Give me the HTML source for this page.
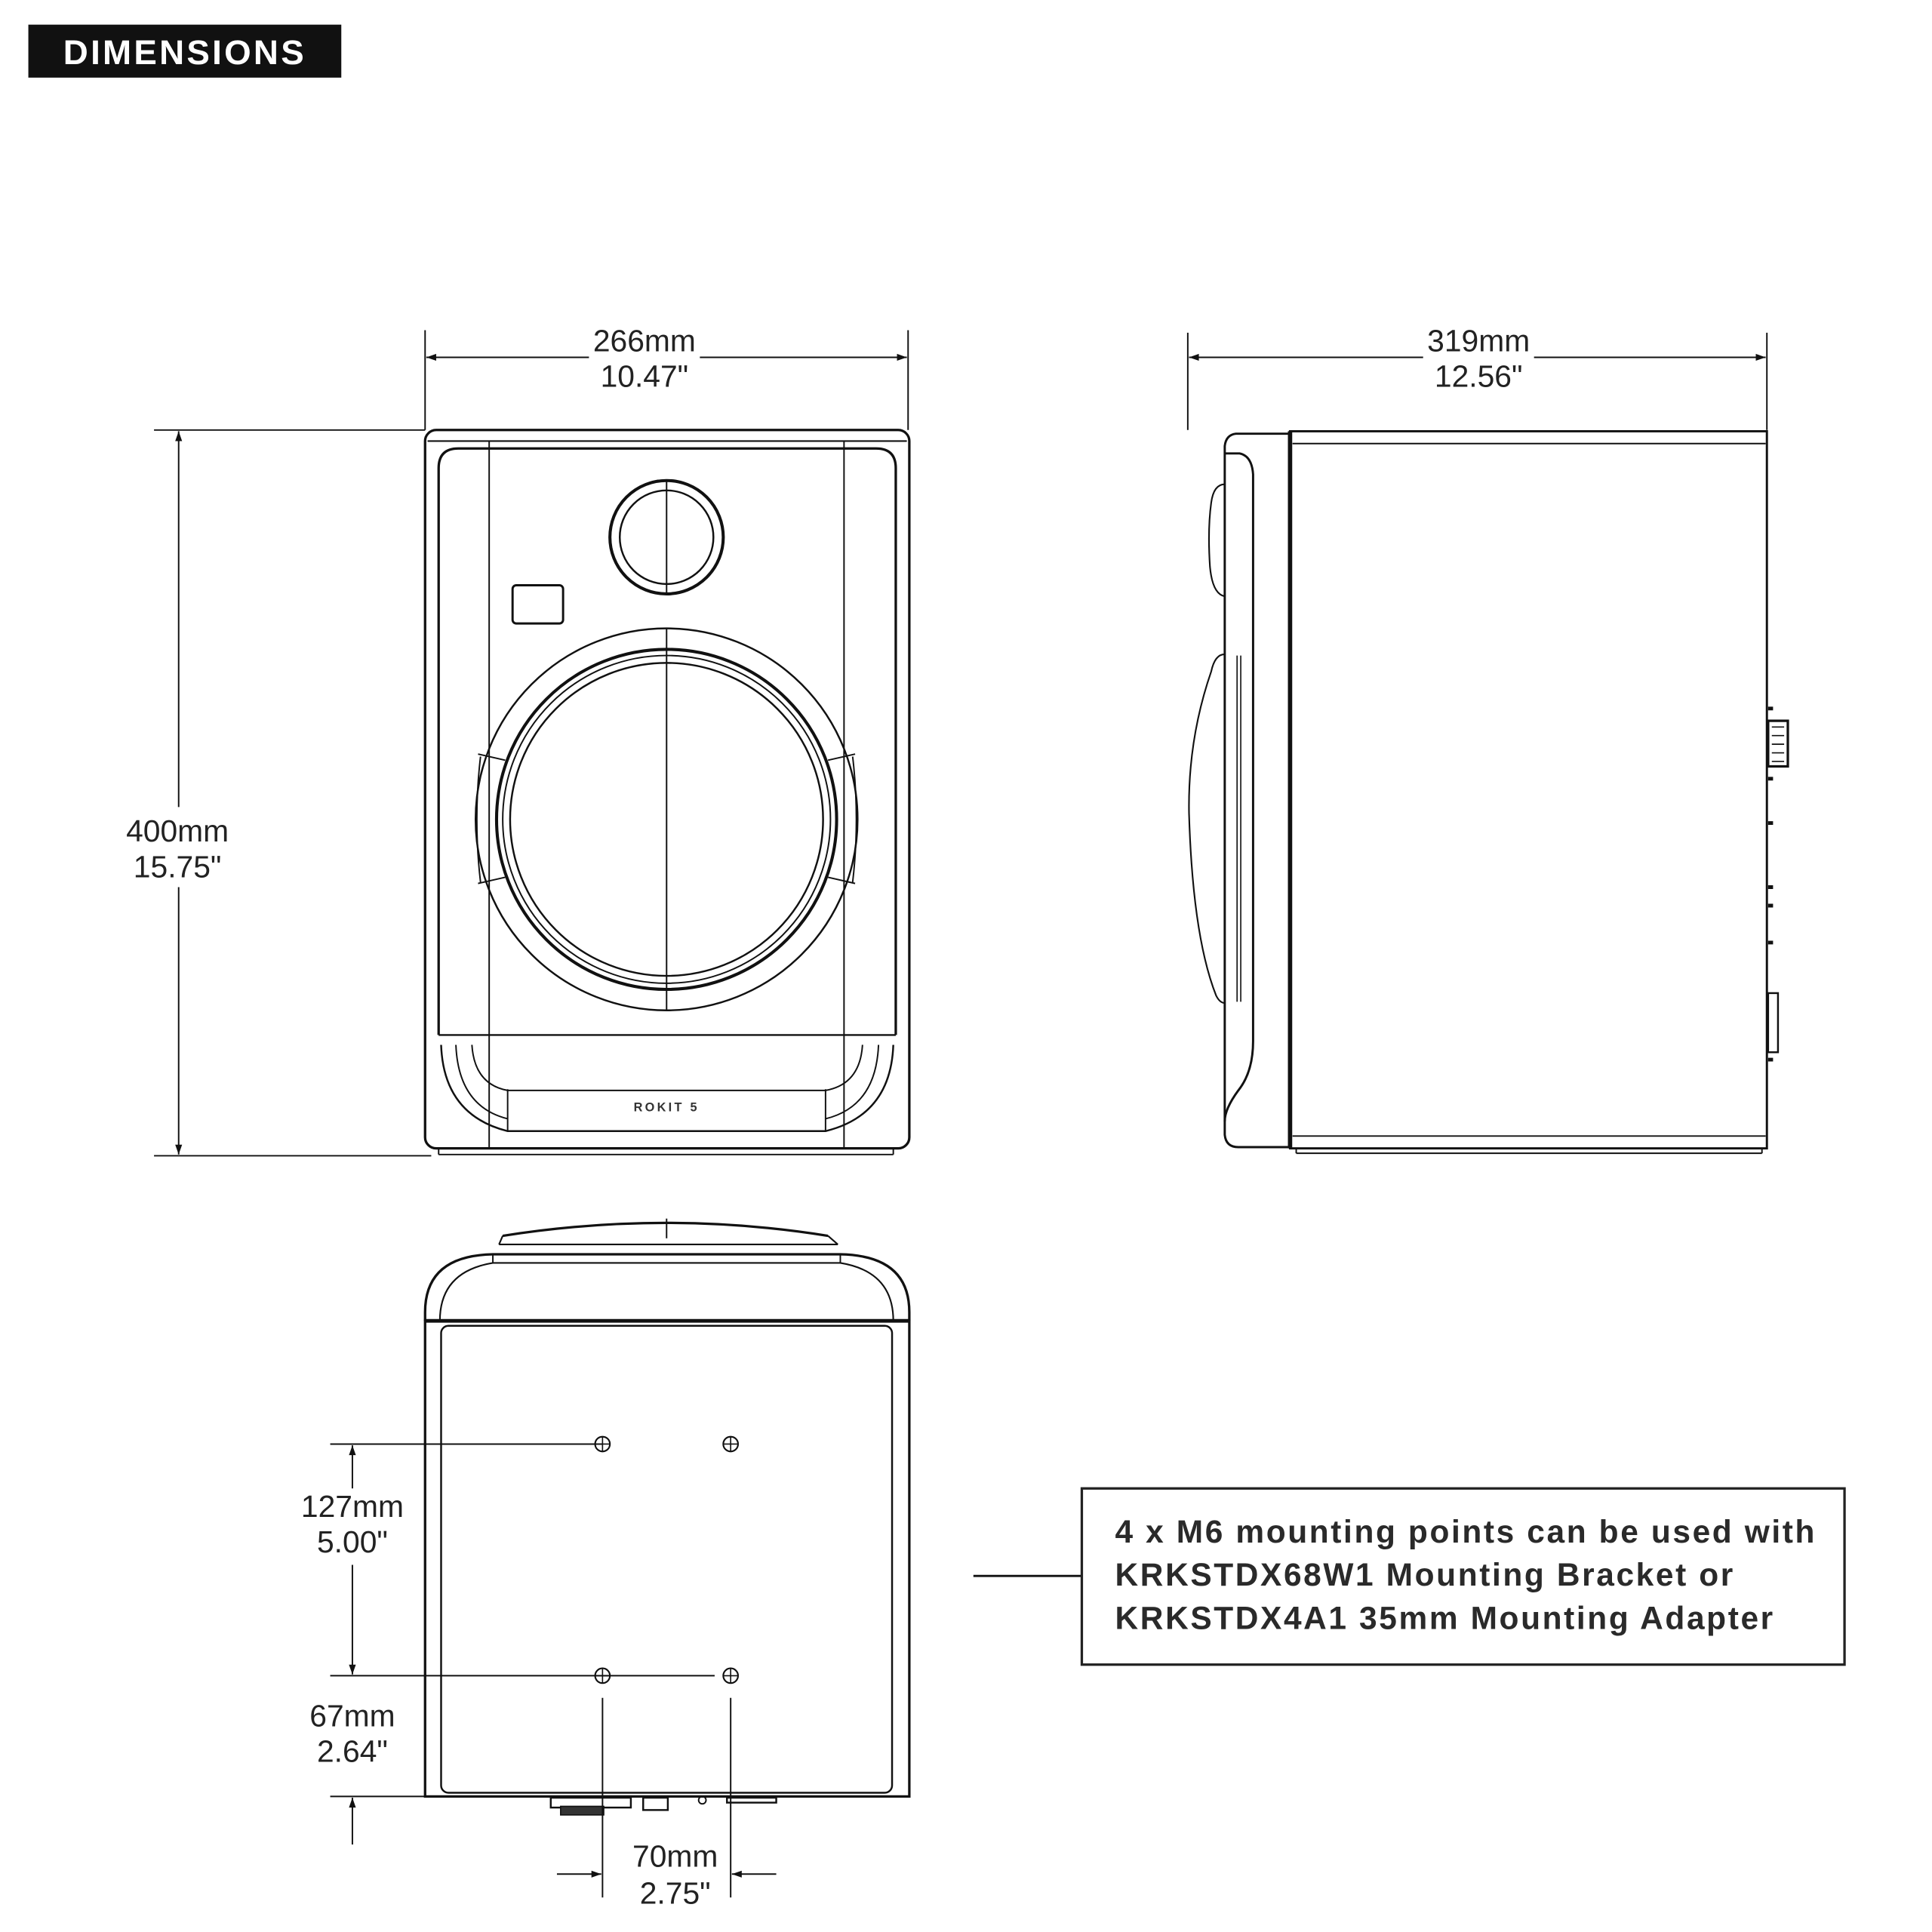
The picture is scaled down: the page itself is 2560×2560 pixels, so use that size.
<!DOCTYPE html>
<html><head><meta charset="utf-8"><style>
html,body{margin:0;padding:0;background:#fff;}
svg{display:block;}
.d{font-family:"Liberation Sans",sans-serif;font-size:25px;fill:#222;text-anchor:middle;}
.n{font-family:"Liberation Sans",sans-serif;font-size:26px;font-weight:bold;fill:#2a2a2a;letter-spacing:1.6px;}
</style></head><body>
<svg width="2560" height="2560" viewBox="0 0 1568 1568" xmlns="http://www.w3.org/2000/svg">
<defs>
<marker id="a" viewBox="0 0 10 10" refX="10" refY="5" markerWidth="16" markerHeight="8" markerUnits="userSpaceOnUse" orient="auto-start-reverse"><path d="M0,1.5 L10,5 L0,8.5 z" fill="#111"/></marker>
</defs>
<rect x="23" y="20" width="254" height="43" fill="#111"/>
<text x="150" y="52" fill="#fff" font-family="Liberation Sans,sans-serif" font-weight="bold" font-size="28" text-anchor="middle" letter-spacing="2">DIMENSIONS</text>

<g fill="none" stroke="#111" stroke-width="1.2">
<line x1="345" y1="268" x2="345" y2="349"/><line x1="737" y1="268" x2="737" y2="349"/>
<line x1="346" y1="290" x2="478" y2="290" marker-start="url(#a)"/><line x1="568" y1="290" x2="736" y2="290" marker-end="url(#a)"/>
<line x1="125" y1="349" x2="345" y2="349"/><line x1="125" y1="938" x2="350" y2="938"/>
<line x1="145" y1="350" x2="145" y2="655" marker-start="url(#a)"/><line x1="145" y1="720" x2="145" y2="937" marker-end="url(#a)"/>
<line x1="964" y1="270" x2="964" y2="349"/><line x1="1434" y1="270" x2="1434" y2="349"/>
<line x1="965" y1="290" x2="1155" y2="290" marker-start="url(#a)"/><line x1="1245" y1="290" x2="1433" y2="290" marker-end="url(#a)"/>
</g>
<text class="d" x="523" y="285">266mm</text><text class="d" x="523" y="314">10.47"</text>
<text class="d" x="144" y="683">400mm</text><text class="d" x="144" y="712">15.75"</text>
<text class="d" x="1200" y="285">319mm</text><text class="d" x="1200" y="314">12.56"</text>

<g fill="none" stroke="#111" stroke-width="2">
<rect x="345" y="349" width="393" height="583" rx="9"/>
<line x1="347" y1="358" x2="736" y2="358" stroke-width="1.3"/>
<path d="M356,840 V380 Q356,364 372,364 H711 Q727,364 727,380 V840"/>
<line x1="397" y1="358" x2="397" y2="932" stroke-width="1.2"/>
<line x1="685" y1="358" x2="685" y2="932" stroke-width="1.2"/>
<circle cx="541" cy="436" r="46" stroke-width="2.5"/>
<circle cx="541" cy="436" r="38" stroke-width="1.5"/>
<line x1="541" y1="390" x2="541" y2="482" stroke-width="1.2"/>
<rect x="416" y="475" width="41" height="31" rx="3" stroke-width="1.8"/>
<circle cx="541" cy="665" r="155" stroke-width="1.5"/>
<circle cx="541" cy="665" r="138" stroke-width="2.5"/>
<circle cx="541" cy="665" r="133" stroke-width="1.2"/>
<circle cx="541" cy="665" r="127" stroke-width="1.5"/>
<line x1="541" y1="510" x2="541" y2="820" stroke-width="1.2"/>
<path d="M388,612 L410,617 M388,717 L410,712 M694,612 L672,617 M694,717 L672,712" stroke-width="1.2"/>
<path d="M390,614 Q384,665 390,716" stroke-width="1.2"/>
<path d="M692,614 Q698,665 692,716" stroke-width="1.2"/>
<line x1="356" y1="840" x2="727" y2="840" stroke-width="1.5"/>
<path d="M358,848 Q360,905 412,918 H670 Q723,905 725,848" stroke-width="1.5"/>
<path d="M370,848 Q372,898 412,908" stroke-width="1.2"/>
<path d="M713,848 Q711,898 670,908" stroke-width="1.2"/>
<path d="M383,848 Q385,880 412,885 M700,848 Q698,880 670,885" stroke-width="1.2"/>
<line x1="412" y1="884" x2="412" y2="918" stroke-width="1.2"/><line x1="670" y1="884" x2="670" y2="918" stroke-width="1.2"/>
<line x1="412" y1="885" x2="670" y2="885" stroke-width="1.2"/>
<line x1="356" y1="932" x2="356" y2="937" stroke-width="1.2"/><line x1="725" y1="932" x2="725" y2="937" stroke-width="1.2"/>
<line x1="356" y1="937" x2="725" y2="937" stroke-width="1.2"/>
</g>
<text x="541" y="902" font-family="Liberation Sans,sans-serif" font-size="10" font-weight="bold" fill="#333" text-anchor="middle" letter-spacing="2">ROKIT 5</text>

<g fill="none" stroke="#111" stroke-width="1.8">
<rect x="1047" y="350" width="387" height="582"/>
<line x1="1047" y1="350" x2="1047" y2="932" stroke-width="3.5"/>
<line x1="1049" y1="360" x2="1433" y2="360" stroke-width="1.2"/>
<line x1="1049" y1="922" x2="1433" y2="922" stroke-width="1.2"/>
<path d="M1047,352 H1003 Q995,353 994,362 V921 Q995,931 1005,931 H1047"/>
<path d="M994,368 H1006 Q1016,370 1017,385 V845 Q1017,870 1005,885 Q994,900 994,910"/>
<path d="M994,393 Q985,393 983,408 Q980,430 982,460 Q984,482 994,484" stroke-width="1.3"/>
<path d="M994,531 Q986,531 983,545 Q964,600 965,660 Q968,760 987,808 Q990,814 994,814" stroke-width="1.3"/>
<line x1="1004" y1="532" x2="1004" y2="813" stroke-width="1"/>
<line x1="1007" y1="532" x2="1007" y2="813" stroke-width="1"/>
<line x1="1052" y1="932" x2="1052" y2="936" stroke-width="1.2"/><line x1="1430" y1="932" x2="1430" y2="936" stroke-width="1.2"/>
<line x1="1052" y1="936" x2="1430" y2="936" stroke-width="1.2"/>
<rect x="1435" y="585" width="16" height="37" stroke-width="2" fill="#fff"/>
<path d="M1438,590 h10 M1438,597 h10 M1438,604 h10 M1438,611 h10 M1438,618 h10" stroke-width="1"/>
<rect x="1435" y="806" width="8" height="48" stroke-width="1.5"/>
<path d="M1435,575 h4 M1435,632 h4 M1435,668 h4 M1435,720 h4 M1435,735 h4 M1435,765 h4 M1435,860 h4" stroke-width="3"/>
</g>

<g fill="none" stroke="#111" stroke-width="2">
<path d="M408,1003 Q541,982 672,1003"/>
<line x1="541" y1="989" x2="541" y2="1005" stroke-width="1.2"/>
<path d="M405,1010 H680 M408,1003 L405,1010 M672,1003 L680,1010" stroke-width="1.3"/>
<path d="M345,1072 V1065 Q345,1019 400,1018 H682 Q738,1019 738,1065 V1072"/>
<path d="M357,1072 Q357,1032 400,1025 H682 Q725,1032 725,1072" stroke-width="1.3"/>
<line x1="400" y1="1018" x2="400" y2="1025" stroke-width="1.2"/><line x1="682" y1="1018" x2="682" y2="1025" stroke-width="1.2"/>
<line x1="345" y1="1072" x2="738" y2="1072" stroke-width="3"/>
<rect x="345" y="1072" width="393" height="386"/>
<rect x="358" y="1076" width="366" height="379" rx="6" stroke-width="1.5"/>
<g stroke-width="1.3">
<circle cx="489" cy="1172" r="6"/><circle cx="593" cy="1172" r="6"/><circle cx="489" cy="1360" r="6"/><circle cx="593" cy="1360" r="6"/>
<path d="M483,1172 h12 M489,1166 v12 M587,1172 h12 M593,1166 v12 M483,1360 h12 M489,1354 v12 M587,1360 h12 M593,1354 v12" stroke-width="1"/>
</g>
<rect x="447" y="1459" width="65" height="8" stroke-width="1.5"/>
<rect x="455" y="1466" width="35" height="7" fill="#333" stroke-width="1"/>
<rect x="522" y="1459" width="20" height="10" stroke-width="1.5"/>
<circle cx="570" cy="1461" r="3" stroke-width="1.2"/>
<rect x="590" y="1459" width="40" height="4" stroke-width="1.5"/>
</g>
<g fill="none" stroke="#111" stroke-width="1.2">
<line x1="268" y1="1172" x2="489" y2="1172"/>
<line x1="268" y1="1360" x2="580" y2="1360"/>
<line x1="268" y1="1458" x2="345" y2="1458"/>
<line x1="286" y1="1173" x2="286" y2="1208" marker-start="url(#a)"/>
<line x1="286" y1="1270" x2="286" y2="1359" marker-end="url(#a)"/>
<line x1="286" y1="1459" x2="286" y2="1497" marker-start="url(#a)"/>
<line x1="489" y1="1378" x2="489" y2="1540"/><line x1="593" y1="1378" x2="593" y2="1540"/>
<line x1="452" y1="1521" x2="488" y2="1521" marker-end="url(#a)"/>
<line x1="630" y1="1521" x2="594" y2="1521" marker-end="url(#a)"/>
</g>
<text class="d" x="286" y="1231">127mm</text><text class="d" x="286" y="1260">5.00"</text>
<text class="d" x="286" y="1401">67mm</text><text class="d" x="286" y="1430">2.64"</text>
<text class="d" x="548" y="1515">70mm</text><text class="d" x="548" y="1545">2.75"</text>

<line x1="790" y1="1279" x2="878" y2="1279" stroke="#111" stroke-width="1.8"/>
<rect x="878" y="1208" width="619" height="143" fill="none" stroke="#222" stroke-width="2"/>
<text class="n" x="905" y="1252">4 x M6 mounting points can be used with</text>
<text class="n" x="905" y="1287">KRKSTDX68W1 Mounting Bracket or</text>
<text class="n" x="905" y="1322">KRKSTDX4A1 35mm Mounting Adapter</text>
</svg>
</body></html>
